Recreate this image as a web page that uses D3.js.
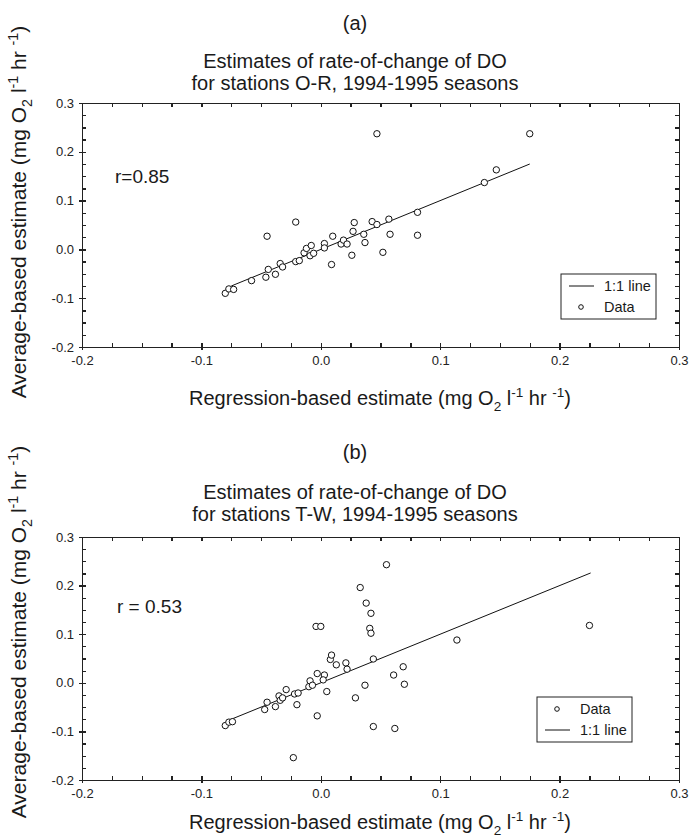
<!DOCTYPE html>
<html lang="en">
<head>
<meta charset="UTF-8">
<title>Estimates of rate-of-change of DO</title>
<script src="https://d3js.org/d3.v7.min.js"></script>
<style>
    body { margin: 0; background: #fff; }
    svg { display: block; font-family: "Liberation Sans", Arial, sans-serif; }
    .frame path, .frame line { stroke: #222; stroke-width: 1.3; fill: none; shape-rendering: crispEdges; }
    .tick-label { font-size: 13px; fill: #222; }
    .title { font-size: 20px; fill: #1a1a1a; text-anchor: middle; }
    .axis-title { fill: #1a1a1a; text-anchor: middle; }
    .r-label { font-size: 19px; fill: #1a1a1a; }
    .legend-text { font-size: 14.5px; fill: #1a1a1a; }
    .dot { fill: #fff; stroke: #111; stroke-width: 1; }
    .one-line { stroke: #111; stroke-width: 1; fill: none; }
</style>
</head>
<body>
<svg id="chart" width="689" height="839"></svg>
<script>
// (a) stations O-R
const aRegression = [-0.080, -0.077, -0.073, -0.058, -0.046, -0.044, -0.038, -0.034, -0.032, -0.045,
                     -0.021, -0.021, -0.018, -0.014, -0.012, -0.008, -0.009, -0.006, 0.003, 0.003,
                     0.009, 0.010, 0.017, 0.019, 0.022, 0.026, 0.027, 0.028, 0.036, 0.037,
                     0.043, 0.047, 0.047, 0.052, 0.057, 0.058, 0.081, 0.081, 0.137, 0.147, 0.175];
const aAverage    = [-0.090, -0.081, -0.082, -0.064, -0.057, -0.041, -0.051, -0.029, -0.036, 0.027,
                     0.056, -0.025, -0.023, -0.007, 0.002, 0.008, -0.013, -0.008, 0.012, 0.003,
                     -0.031, 0.027, 0.011, 0.019, 0.011, -0.012, 0.037, 0.055, 0.031, 0.014,
                     0.057, 0.051, 0.237, -0.006, 0.062, 0.031, 0.076, 0.029, 0.137, 0.163, 0.237];
const aLine = [-0.075, 0.175];

// (b) stations T-W
const bRegression = [-0.080, -0.077, -0.074, -0.047, -0.045, -0.038, -0.035, -0.034, -0.032, -0.029,
                     -0.022, -0.019, -0.020, -0.023, -0.010, -0.009, -0.007, -0.003, -0.003, -0.004,
                     0.000, 0.003, 0.002, 0.005, 0.008, 0.009, 0.013, 0.021, 0.022, 0.029,
                     0.033, 0.037, 0.038, 0.042, 0.041, 0.042, 0.044, 0.044, 0.055, 0.061,
                     0.069, 0.070, 0.062, 0.114, 0.225];
const bAverage    = [-0.088, -0.081, -0.080, -0.055, -0.040, -0.049, -0.027, -0.036, -0.031, -0.014,
                     -0.023, -0.021, -0.045, -0.154, -0.008, 0.004, -0.005, 0.019, -0.068, 0.116,
                     0.116, 0.016, 0.006, -0.018, 0.048, 0.057, 0.037, 0.041, 0.028, -0.031,
                     0.196, -0.005, 0.164, 0.143, 0.112, 0.102, 0.049, -0.090, 0.243, 0.016,
                     0.033, -0.003, -0.094, 0.088, 0.118];
const bLine = [-0.075, 0.226];

const majorTicks = [-0.2, -0.1, 0.0, 0.1, 0.2, 0.3];
const tickLabels = ["-0.2", "-0.1", "0.0", "0.1", "0.2", "0.3"];
const minorTicks = d3.range(0, 21).map(i => -0.2 + i * 0.025);

const panels = [
    { tag: "(a)", sub: "for stations O-R, 1994-1995 seasons", r: "r=0.85",
      xs: aRegression, ys: aAverage, line: aLine, legend: ["line", "data"],
      top: 103, bottom: 347, tagY: 23, t1Y: 61, t2Y: 83, rX: 115, rY: 183,
      legX: 561, legY: 274, xTitleY: 398, yTitleY: 212 },
    { tag: "(b)", sub: "for stations T-W, 1994-1995 seasons", r: "r = 0.53",
      xs: bRegression, ys: bAverage, line: bLine, legend: ["data", "line"],
      top: 537, bottom: 780, tagY: 452, t1Y: 492, t2Y: 514, rX: 117, rY: 613,
      legX: 537, legY: 697, xTitleY: 822, yTitleY: 632 }
];

const left = 82, right = 679;
const svg = d3.select("#chart");

// text with O2 subscript and -1 superscripts
function unitText(sel, prefix, fs) {
    const sub = fs * 0.28, sup = fs * 0.42, small = fs * 0.68;
    sel.attr("font-size", fs);
    sel.append("tspan").text(prefix + " (mg O");
    sel.append("tspan").attr("dy", sub).attr("font-size", small).text("2");
    sel.append("tspan").attr("dy", -sub).text(" l");
    sel.append("tspan").attr("dy", -sup).attr("font-size", small).text("-1");
    sel.append("tspan").attr("dy", sup).text(" hr ");
    sel.append("tspan").attr("dy", -sup).attr("font-size", small).text("-1");
    sel.append("tspan").attr("dy", sup).text(")");
}

panels.forEach(p => {
    const x = d3.scaleLinear().domain([-0.2, 0.3]).range([left, right]);
    const y = d3.scaleLinear().domain([-0.2, 0.3]).range([p.bottom, p.top]);
    const g = svg.append("g");

    // titles
    g.append("text").attr("class", "title").attr("x", 355).attr("y", p.tagY).attr("dy", "0.35em").text(p.tag);
    g.append("text").attr("class", "title").attr("x", 355).attr("y", p.t1Y).attr("dy", "0.35em")
        .text("Estimates of rate-of-change of DO");
    g.append("text").attr("class", "title").attr("x", 355).attr("y", p.t2Y).attr("dy", "0.35em").text(p.sub);

    // frame with inward minor ticks on every side
    const frame = g.append("g").attr("class", "frame");
    frame.append("g").attr("transform", `translate(0,${p.bottom})`)
        .call(d3.axisBottom(x).tickValues(minorTicks).tickSize(-4).tickSizeOuter(0).tickFormat(""));
    frame.append("g").attr("transform", `translate(0,${p.top})`)
        .call(d3.axisTop(x).tickValues(minorTicks).tickSize(-4).tickSizeOuter(0).tickFormat(""));
    frame.append("g").attr("transform", `translate(${left},0)`)
        .call(d3.axisLeft(y).tickValues(minorTicks).tickSize(-4).tickSizeOuter(0).tickFormat(""));
    frame.append("g").attr("transform", `translate(${right},0)`)
        .call(d3.axisRight(y).tickValues(minorTicks).tickSize(-4).tickSizeOuter(0).tickFormat(""));

    // major ticks with labels
    const xMajor = frame.append("g").attr("transform", `translate(0,${p.bottom})`)
        .call(d3.axisBottom(x).tickValues(majorTicks).tickSize(3).tickSizeOuter(0).tickPadding(6)
            .tickFormat((d, i) => tickLabels[i]));
    const yMajor = frame.append("g").attr("transform", `translate(${left},0)`)
        .call(d3.axisLeft(y).tickValues(majorTicks).tickSize(3).tickSizeOuter(0).tickPadding(5)
            .tickFormat((d, i) => tickLabels[i]));
    [xMajor, yMajor].forEach(a => {
        a.select(".domain").remove();
        a.selectAll("text").attr("class", "tick-label").attr("font-family", null).attr("font-size", null);
    });

    // 1:1 line
    g.append("line").attr("class", "one-line")
        .attr("x1", x(p.line[0])).attr("y1", y(p.line[0]))
        .attr("x2", x(p.line[1])).attr("y2", y(p.line[1]));

    // data
    g.selectAll(".dot").data(p.xs.map((v, i) => [v, p.ys[i]])).enter()
        .append("circle").attr("class", "dot")
        .attr("cx", d => x(d[0])).attr("cy", d => y(d[1])).attr("r", 3.2);

    g.append("text").attr("class", "r-label").attr("x", p.rX).attr("y", p.rY).text(p.r);

    // legend
    const leg = g.append("g").attr("transform", `translate(${p.legX},${p.legY})`);
    leg.append("rect").attr("width", 95).attr("height", 45)
        .attr("fill", "#fff").attr("stroke", "#222").attr("stroke-width", 1);
    p.legend.forEach((k, i) => {
        const ry = 12 + i * 21;
        if (k === "line") {
            leg.append("line").attr("class", "one-line").attr("x1", 8).attr("x2", 33).attr("y1", ry).attr("y2", ry);
            leg.append("text").attr("class", "legend-text").attr("x", 43).attr("y", ry).attr("dy", "0.35em").text("1:1 line");
        } else {
            leg.append("circle").attr("class", "dot").attr("cx", 20).attr("cy", ry).attr("r", 2.3);
            leg.append("text").attr("class", "legend-text").attr("x", 43).attr("y", ry).attr("dy", "0.35em").text("Data");
        }
    });

    // axis titles
    const xt = g.append("text").attr("class", "axis-title")
        .attr("x", 380).attr("y", p.xTitleY).attr("dy", "0.35em");
    unitText(xt, "Regression-based estimate", 20);
    const yt = g.append("text").attr("class", "axis-title")
        .attr("transform", `translate(19,${p.yTitleY}) rotate(-90)`).attr("dy", "0.35em");
    unitText(yt, "Average-based estimate", 21);
});
</script>
</body>
</html>
